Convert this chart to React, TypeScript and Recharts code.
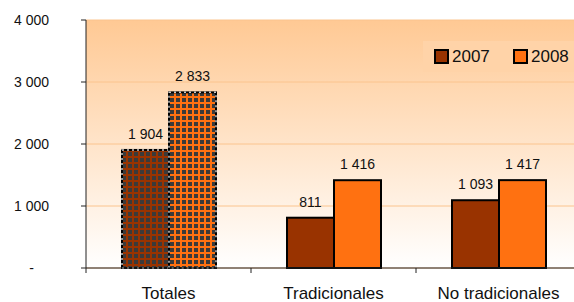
import React from 'react';
import { BarChart, Bar, XAxis, YAxis, CartesianGrid } from 'recharts';

const categories = ['Totales', 'Tradicionales', 'No tradicionales'];
const values2007 = [1904, 811, 1093];
const values2008 = [2833, 1416, 1417];
const yTicks = [0, 1000, 2000, 3000, 4000];
const seriesNames = ['2007', '2008'];

const COLOR_2007 = '#993300';
const COLOR_2008 = '#FF7111';
const FONT = '"Liberation Sans", Arial, sans-serif';

const data = categories.map((c, i) => ({ category: c, v2007: values2007[i], v2008: values2008[i] }));

const CHART_W = 600;
const CHART_H = 302;
const LEFT = 86;
const RIGHT_M = 19;
const TOP = 20;
const X_AXIS_H = 34;
const PLOT_W = CHART_W - LEFT - RIGHT_M;
const AXIS_Y = CHART_H - X_AXIS_H;
const BAND = PLOT_W / categories.length;

const fmt = (v: number) => (v === 0 ? '-' : String(v).replace(/\B(?=(\d{3})+(?!\d))/g, ' '));

const makeShape = (color: string, patternId: string) => (props: any) => {
  const { x, y, width, height, payload } = props;
  if (payload && payload.category === 'Totales') {
    return (
      <g>
        <rect x={x} y={y} width={width} height={height} fill={`url(#${patternId})`} />
        <rect x={x} y={y} width={width} height={height} fill="none" stroke="#000" strokeWidth={2} />
        <rect x={x} y={y} width={width} height={height} fill="none" stroke="#c8c8c8" strokeWidth={1.5} strokeDasharray="2 3" />
      </g>
    );
  }
  return <rect x={x} y={y} width={width} height={height} fill={color} stroke="#000" strokeWidth={2} />;
};

const valueLabel = (props: any) => {
  const { x, y, width, value } = props;
  return (
    <text x={x + width / 2} y={y - 11} textAnchor="middle" fontSize={14} fontFamily={FONT} fill="#111">
      {fmt(value)}
    </text>
  );
};

const XTick = (props: any) => {
  const { x, payload, index } = props;
  const right = x + BAND / 2;
  const left = x - BAND / 2;
  return (
    <g>
      {index === 0 && <line x1={left} x2={left} y1={AXIS_Y} y2={AXIS_Y + 5} stroke="#222" />}
      <line x1={right} x2={right} y1={AXIS_Y} y2={AXIS_Y + 5} stroke="#222" />
      <text x={x} y={299} textAnchor="middle" fontSize={17} fontFamily={FONT} fill="#111">
        {payload.value}
      </text>
    </g>
  );
};

const YTick = (props: any) => {
  const { y, payload } = props;
  if (payload.value === 0) {
    return (
      <text x={31.5} y={y + 5} textAnchor="middle" fontSize={14} fontFamily={FONT} fill="#111">
        -
      </text>
    );
  }
  return (
    <text x={49} y={y + 5} textAnchor="end" fontSize={14} fontFamily={FONT} fill="#111">
      {fmt(payload.value)}
    </text>
  );
};

const LegendBox = () => (
  <div
    style={{
      position: 'absolute',
      left: 423,
      top: 41,
      width: 170,
      height: 31,
      background: '#FFD3A8',
      fontFamily: FONT,
      fontSize: 17,
      color: '#111',
    }}
  >
    {seriesNames.map((s, i) => (
      <div key={s} style={{ position: 'absolute', left: i === 0 ? 11 : 90, top: 0, height: 31, display: 'flex', alignItems: 'center' }}>
        <div
          style={{
            width: 11,
            height: 11,
            border: '2px solid #000',
            background: i === 0 ? COLOR_2007 : COLOR_2008,
            marginRight: 3,
          }}
        />
        <span style={{ lineHeight: '17px' }}>{s}</span>
      </div>
    ))}
  </div>
);

export default function App() {
  return (
    <div style={{ position: 'absolute', left: 0, top: 0, width: 574, height: 302, overflow: 'hidden', background: '#fff' }}>
      <BarChart
        width={CHART_W}
        height={CHART_H}
        data={data}
        margin={{ top: TOP, right: RIGHT_M, bottom: 0, left: 0 }}
        barGap={0}
      >
        <defs>
          <linearGradient id="bg" x1="0" y1="0" x2="0" y2="1">
            <stop offset="0%" stopColor="#FFC994" />
            <stop offset="100%" stopColor="#FFFFFF" />
          </linearGradient>
          <pattern id="p2007" width="6" height="6" patternUnits="userSpaceOnUse">
            <rect width="6" height="6" fill="#3a3a3a" />
            <rect width="6" height="2" fill={COLOR_2007} />
            <rect width="2" height="6" fill={COLOR_2007} />
          </pattern>
          <pattern id="p2008" width="6" height="6" patternUnits="userSpaceOnUse">
            <rect width="6" height="6" fill="#3a3a3a" />
            <rect width="6" height="2" fill={COLOR_2008} />
            <rect width="2" height="6" fill={COLOR_2008} />
          </pattern>
        </defs>
        <CartesianGrid vertical={false} stroke="#FBC48E" fill="url(#bg)" />
        <XAxis
          dataKey="category"
          axisLine={{ stroke: '#222' }}
          tickLine={false}
          tick={<XTick />}
          height={X_AXIS_H}
          interval={0}
        />
        <YAxis
          domain={[0, 4000]}
          ticks={yTicks}
          width={LEFT}
          axisLine={{ stroke: '#222' }}
          tickLine={{ stroke: '#222' }}
          tickSize={5}
          tick={<YTick />}
          interval={0}
        />
        <Bar dataKey="v2007" barSize={47} isAnimationActive={false} shape={makeShape(COLOR_2007, 'p2007')} label={valueLabel} />
        <Bar dataKey="v2008" barSize={47} isAnimationActive={false} shape={makeShape(COLOR_2008, 'p2008')} label={valueLabel} />
      </BarChart>
      <LegendBox />
    </div>
  );
}
